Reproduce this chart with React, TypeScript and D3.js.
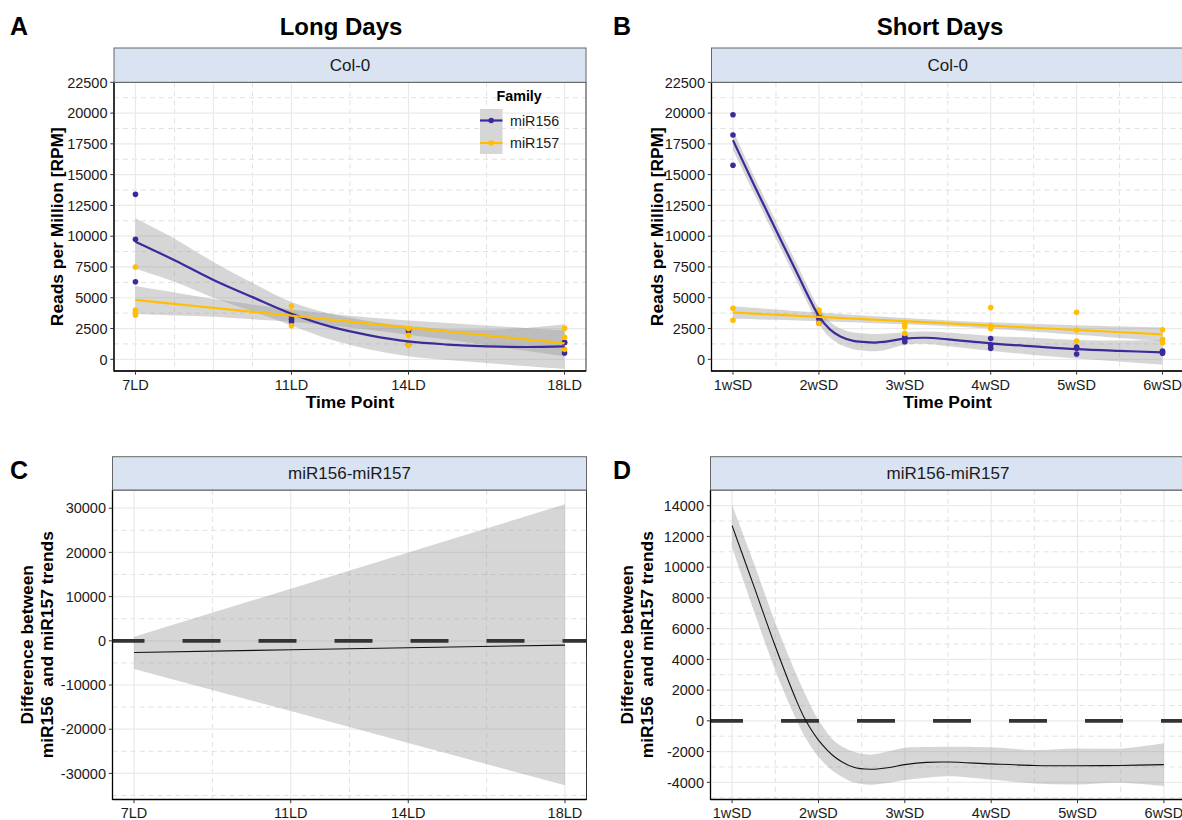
import React from 'react';
import * as d3 from 'd3';

const FONT = "'Liberation Sans', Arial, Helvetica, sans-serif";
const PURPLE = '#3B2A9A';
const YELLOW = '#FFBF00';

// ---------- axis ticks ----------
const LD_MAJOR = [7, 9, 11, 14, 18];
const LD_MINOR = [8, 10, 12.5, 16];
const LD_TICKS = [7, 11, 14, 18];
const LD_LABELS = ['7LD', '11LD', '14LD', '18LD'];
const LDC_MAJOR = [7, 11, 14, 18];
const LDC_MINOR = [9, 12.5, 16];
const SD_TICKS = [1, 2, 3, 4, 5, 6];
const SD_LABELS = ['1wSD', '2wSD', '3wSD', '4wSD', '5wSD', '6wSD'];
const SD_MINOR = [1.5, 2.5, 3.5, 4.5, 5.5];
const RPM_TICKS = [0, 2500, 5000, 7500, 10000, 12500, 15000, 17500, 20000, 22500];
const RPM_MINOR = [1250, 3750, 6250, 8750, 11250, 13750, 16250, 18750, 21250];
const DIFF_LD_TICKS = [-30000, -20000, -10000, 0, 10000, 20000, 30000];
const DIFF_LD_MINOR = [-35000, -25000, -15000, -5000, 5000, 15000, 25000];
const DIFF_SD_TICKS = [-4000, -2000, 0, 2000, 4000, 6000, 8000, 10000, 12000, 14000];
const DIFF_SD_MINOR = [-5000, -3000, -1000, 1000, 3000, 5000, 7000, 9000, 11000, 13000, 15000];

// ---------- Long days: points ----------
const LD_MIR156_X = [7, 7, 7, 11, 11, 11, 14, 14, 14, 18, 18, 18];
const LD_MIR156_Y = [13400, 9750, 6300, 3500, 3250, 3050, 2430, 2300, 1200, 1380, 1350, 510];
const LD_MIR157_X = [7, 7, 7, 7, 11, 11, 11, 14, 14, 14, 18, 18, 18];
const LD_MIR157_Y = [7500, 4000, 3790, 3600, 4330, 3740, 2730, 2500, 1950, 1160, 2520, 1790, 810];

// ---------- Long days: smooth fits ----------
const LD_FIT_X = [7, 8, 9, 10, 11, 12, 13, 14, 15, 16, 17, 18];
const LD_MIR156_FIT = [9550, 8050, 6450, 5050, 3700, 2650, 1950, 1450, 1200, 1050, 1000, 1050];
const LD_MIR156_LO = [7350, 6300, 5000, 3900, 2750, 1600, 800, 250, -50, -300, -550, -800];
const LD_MIR156_HI = [11450, 9800, 7900, 6200, 4650, 3700, 3100, 2700, 2450, 2400, 2550, 2850];
const LD_MIR157_FIT = [4820, 4500, 4180, 3860, 3540, 3220, 2900, 2580, 2260, 1940, 1620, 1300];
const LD_MIR157_LO = [3650, 3550, 3450, 3250, 3050, 2750, 2400, 2000, 1600, 1150, 700, 250];
const LD_MIR157_HI = [5950, 5420, 4900, 4450, 4050, 3700, 3400, 3150, 2950, 2750, 2550, 2350];

// ---------- Short days: points ----------
const SD_MIR156_X = [1, 1, 1, 2, 2, 2, 3, 3, 3, 4, 4, 4, 5, 5, 5, 6, 6, 6];
const SD_MIR156_Y = [19870, 18220, 15760, 3500, 3300, 2950, 1800, 1700, 1430, 1680, 1160, 890, 1000, 900, 430, 675, 590, 490];
const SD_MIR157_X = [1, 1, 2, 2, 2, 3, 3, 3, 4, 4, 4, 5, 5, 5, 6, 6, 6];
const SD_MIR157_Y = [4140, 3170, 4000, 3790, 2920, 2840, 2650, 2110, 4200, 2730, 2500, 3820, 2380, 1490, 2400, 1620, 1350];

// ---------- Short days: smooth fits ----------
const SD_M156_X = [1, 1.25, 1.5, 1.75, 1.875, 2, 2.125, 2.25, 2.4, 2.5, 2.65, 2.8, 3, 3.25, 3.5, 4, 4.5, 5, 5.5, 6];
const SD_MIR156_FIT = [17800, 14100, 10500, 6950, 5150, 3500, 2450, 1850, 1500, 1420, 1360, 1450, 1680, 1750, 1620, 1300, 1050, 820, 680, 570];
const SD_MIR156_LO = [17000, 13400, 9800, 6250, 4480, 2850, 1800, 1200, 820, 720, 660, 800, 1180, 1250, 1070, 700, 350, 70, -170, -430];
const SD_MIR156_HI = [18600, 14800, 11200, 7650, 5820, 4150, 3100, 2500, 2180, 2120, 2060, 2100, 2180, 2250, 2170, 1900, 1750, 1570, 1530, 1570];
const SD_M157_X = [1, 2, 3, 3.5, 4, 5, 6];
const SD_MIR157_FIT = [3800, 3450, 3100, 2920, 2740, 2380, 2030];
const SD_MIR157_LO = [3300, 3100, 2850, 2680, 2480, 2000, 1480];
const SD_MIR157_HI = [4300, 3800, 3350, 3160, 3000, 2760, 2580];

// ---------- Differences ----------
const DLD_X = [7, 11, 14, 18];
const DLD_FIT = [-2630, -2030, -1570, -970];
const DLD_LO = [-6400, -15900, -23100, -32700];
const DLD_HI = [900, 11800, 20000, 30900];

const DSD_X = [1, 1.25, 1.5, 1.75, 1.85, 2, 2.2, 2.4, 2.6, 2.8, 3, 3.25, 3.5, 4, 4.5, 5, 5.5, 6];
const DSD_FIT = [12700, 8800, 4850, 1250, 50, -1250, -2400, -3000, -3150, -3050, -2850, -2700, -2680, -2800, -2900, -2920, -2900, -2850];
const DSD_LO = [11300, 7200, 3300, 0, -1100, -2350, -3400, -4000, -4150, -4050, -3850, -3700, -3600, -3820, -4080, -4140, -4030, -4250];
const DSD_HI = [14050, 10300, 6400, 2950, 1700, 50, -1400, -2000, -2200, -2000, -1750, -1700, -1680, -1720, -1900, -1800, -1800, -1450];

type Sc = d3.ScaleLinear<number, number>;

interface PanelProps {
  id: string;
  left: number; right: number; top: number; bottom: number; stripTop: number;
  xDomain: [number, number]; yDomain: [number, number];
  xMajor: number[]; xMinor: number[]; xTicks: number[]; xLabels: string[];
  yTicks: number[]; yMinor: number[];
  strip: string;
  tickLabelGap: number;
  render: (x: Sc, y: Sc) => React.ReactNode;
}

function Panel(p: PanelProps) {
  const x = d3.scaleLinear().domain(p.xDomain).range([p.left, p.right]);
  const y = d3.scaleLinear().domain(p.yDomain).range([p.bottom, p.top]);
  const inY = (v: number) => y(v) >= p.top - 0.5 && y(v) <= p.bottom + 0.5;
  const inX = (v: number) => x(v) >= p.left && x(v) <= p.right;
  return (
    <g>
      <defs>
        <clipPath id={`clip-${p.id}`}>
          <rect x={p.left} y={p.top} width={p.right - p.left} height={p.bottom - p.top} />
        </clipPath>
      </defs>
      <rect x={p.left} y={p.top} width={p.right - p.left} height={p.bottom - p.top} fill="#fff" />
      {p.yMinor.filter(inY).map((v) => (
        <line key={`ym${v}`} x1={p.left} x2={p.right} y1={y(v)} y2={y(v)} stroke="#D9D9D9" strokeWidth={0.8} strokeDasharray="5 4" />
      ))}
      {p.xMinor.filter(inX).map((v) => (
        <line key={`xm${v}`} x1={x(v)} x2={x(v)} y1={p.top} y2={p.bottom} stroke="#D9D9D9" strokeWidth={0.8} strokeDasharray="5 4" />
      ))}
      {p.yTicks.map((v) => (
        <line key={`yM${v}`} x1={p.left} x2={p.right} y1={y(v)} y2={y(v)} stroke="#EAEAEA" strokeWidth={1.2} />
      ))}
      {p.xMajor.map((v) => (
        <line key={`xM${v}`} x1={x(v)} x2={x(v)} y1={p.top} y2={p.bottom} stroke="#EAEAEA" strokeWidth={1.2} />
      ))}
      <g clipPath={`url(#clip-${p.id})`}>{p.render(x, y)}</g>
      <rect x={p.left} y={p.top} width={p.right - p.left} height={p.bottom - p.top} fill="none" stroke="#333" strokeWidth={1} />
      <line x1={p.left} x2={p.left} y1={p.top} y2={p.bottom + 0.5} stroke="#000" strokeWidth={1.3} />
      <line x1={p.left} x2={p.right} y1={p.bottom} y2={p.bottom} stroke="#000" strokeWidth={1.3} />
      {p.yTicks.map((v) => (
        <g key={`yt${v}`}>
          <line x1={p.left - 3.7} x2={p.left} y1={y(v)} y2={y(v)} stroke="#333" strokeWidth={1} />
          <text x={p.left - 6.5} y={y(v)} dy="0.36em" textAnchor="end" fontSize={14.5} fill="#1a1a1a" fontFamily={FONT}>{v}</text>
        </g>
      ))}
      {p.xTicks.map((v, i) => (
        <g key={`xt${v}`}>
          <line x1={x(v)} x2={x(v)} y1={p.bottom} y2={p.bottom + 3.7} stroke="#333" strokeWidth={1} />
          <text x={x(v)} y={p.bottom + p.tickLabelGap} textAnchor="middle" fontSize={14.5} fill="#1a1a1a" fontFamily={FONT}>{p.xLabels[i]}</text>
        </g>
      ))}
      <rect x={p.left} y={p.stripTop} width={p.right - p.left} height={p.top - p.stripTop} fill="#DAE3F2" stroke="#666" strokeWidth={1} />
      <text x={(p.left + p.right) / 2} y={(p.stripTop + p.top) / 2} dy="0.36em" textAnchor="middle" fontSize={17} fill="#1a1a1a" fontFamily={FONT}>{p.strip}</text>
    </g>
  );
}

function zip(xs: number[], a: number[], b?: number[], c?: number[]) {
  return xs.map((v, i) => ({ x: v, f: a[i], lo: b ? b[i] : 0, hi: c ? c[i] : 0 }));
}

function Ribbon({ x, y, xs, lo, hi, curve }: { x: Sc; y: Sc; xs: number[]; lo: number[]; hi: number[]; curve: d3.CurveFactory }) {
  const d = zip(xs, lo, lo, hi);
  const area = d3.area<any>().x((e) => x(e.x)).y0((e) => y(e.lo)).y1((e) => y(e.hi)).curve(curve);
  return <path d={area(d) || ''} fill="#999999" fillOpacity={0.4} stroke="none" />;
}

function FitLine({ x, y, xs, fit, color, width, curve }: { x: Sc; y: Sc; xs: number[]; fit: number[]; color: string; width: number; curve: d3.CurveFactory }) {
  const d = zip(xs, fit);
  const line = d3.line<any>().x((e) => x(e.x)).y((e) => y(e.f)).curve(curve);
  return <path d={line(d) || ''} fill="none" stroke={color} strokeWidth={width} strokeLinejoin="round" />;
}

function Points({ x, y, xs, ys, color }: { x: Sc; y: Sc; xs: number[]; ys: number[]; color: string }) {
  return (
    <g>
      {xs.map((v, i) => (
        <circle key={i} cx={x(v)} cy={y(ys[i])} r={2.8} fill={color} />
      ))}
    </g>
  );
}

function HLine0({ y, left, right, offset }: { y: Sc; left: number; right: number; offset: number }) {
  return <line x1={left} x2={right + 4} y1={y(0)} y2={y(0)} stroke="#333" strokeWidth={3.8} strokeDasharray="38 38" strokeDashoffset={offset} />;
}

export default function App() {
  const smooth = d3.curveCatmullRom.alpha(0.5);
  const A = { left: 114, right: 586, top: 82.3, bottom: 371, stripTop: 48 };
  const B = { left: 711.5, right: 1184, top: 82.3, bottom: 371, stripTop: 48 };
  const C = { left: 112.5, right: 586.5, top: 490, bottom: 799.5, stripTop: 456.7 };
  const D = { left: 710.5, right: 1185.5, top: 490, bottom: 799.5, stripTop: 456.7 };
  return (
    <div style={{ position: 'absolute', left: 0, top: 0 }}>
      <svg width={1182} height={820} viewBox="0 0 1182 820" style={{ display: 'block', background: '#fff' }} fontFamily={FONT}>
        <rect x={0} y={0} width={1182} height={820} fill="#fff" />
        {/* Panel letters & titles */}
        <text x={10} y={35} fontSize={25} fontWeight="bold" fill="#000">A</text>
        <text x={613} y={35} fontSize={25} fontWeight="bold" fill="#000">B</text>
        <text x={10} y={479} fontSize={25} fontWeight="bold" fill="#000">C</text>
        <text x={613} y={479} fontSize={25} fontWeight="bold" fill="#000">D</text>
        <text x={341} y={35} fontSize={24} fontWeight="bold" textAnchor="middle" fill="#000">Long Days</text>
        <text x={940} y={35} fontSize={24} fontWeight="bold" textAnchor="middle" fill="#000">Short Days</text>

        {/* Panel A */}
        <Panel id="A" {...A} xDomain={[6.45, 18.55]} yDomain={[-950, 22500]}
          xMajor={LD_MAJOR} xMinor={LD_MINOR} xTicks={LD_TICKS} xLabels={LD_LABELS}
          yTicks={RPM_TICKS} yMinor={RPM_MINOR} strip="Col-0" tickLabelGap={19}
          render={(x, y) => (
            <g>
              <Ribbon x={x} y={y} xs={LD_FIT_X} lo={LD_MIR156_LO} hi={LD_MIR156_HI} curve={smooth} />
              <Ribbon x={x} y={y} xs={LD_FIT_X} lo={LD_MIR157_LO} hi={LD_MIR157_HI} curve={smooth} />
              <Points x={x} y={y} xs={LD_MIR156_X} ys={LD_MIR156_Y} color={PURPLE} />
              <Points x={x} y={y} xs={LD_MIR157_X} ys={LD_MIR157_Y} color={YELLOW} />
              <FitLine x={x} y={y} xs={LD_FIT_X} fit={LD_MIR156_FIT} color={PURPLE} width={2.2} curve={smooth} />
              <FitLine x={x} y={y} xs={LD_FIT_X} fit={LD_MIR157_FIT} color={YELLOW} width={2.2} curve={smooth} />
            </g>
          )} />
        <text transform={`translate(63,${(A.top + A.bottom) / 2}) rotate(-90)`} textAnchor="middle" fontSize={17.4} fontWeight="bold" fill="#000">Reads per Million [RPM]</text>
        <text x={(A.left + A.right) / 2} y={408} textAnchor="middle" fontSize={17.4} fontWeight="bold" fill="#000">Time Point</text>

        {/* Legend */}
        <text x={496.5} y={101} fontSize={14.3} fontWeight="bold" fill="#000">Family</text>
        <rect x={480} y={109} width={22.5} height={45} fill="#D6D6D6" />
        <line x1={480} x2={502.5} y1={120.5} y2={120.5} stroke={PURPLE} strokeWidth={2.2} />
        <circle cx={491.2} cy={120.5} r={2.8} fill={PURPLE} />
        <line x1={480} x2={502.5} y1={143} y2={143} stroke={YELLOW} strokeWidth={2.2} />
        <circle cx={491.2} cy={143} r={2.8} fill={YELLOW} />
        <text x={510} y={120.5} dy="0.36em" fontSize={14.3} fill="#1a1a1a">miR156</text>
        <text x={510} y={143} dy="0.36em" fontSize={14.3} fill="#1a1a1a">miR157</text>

        {/* Panel B */}
        <Panel id="B" {...B} xDomain={[0.75, 6.25]} yDomain={[-950, 22500]}
          xMajor={SD_TICKS} xMinor={SD_MINOR} xTicks={SD_TICKS} xLabels={SD_LABELS}
          yTicks={RPM_TICKS} yMinor={RPM_MINOR} strip="Col-0" tickLabelGap={19}
          render={(x, y) => (
            <g>
              <Ribbon x={x} y={y} xs={SD_M156_X} lo={SD_MIR156_LO} hi={SD_MIR156_HI} curve={smooth} />
              <Ribbon x={x} y={y} xs={SD_M157_X} lo={SD_MIR157_LO} hi={SD_MIR157_HI} curve={smooth} />
              <Points x={x} y={y} xs={SD_MIR156_X} ys={SD_MIR156_Y} color={PURPLE} />
              <Points x={x} y={y} xs={SD_MIR157_X} ys={SD_MIR157_Y} color={YELLOW} />
              <FitLine x={x} y={y} xs={SD_M156_X} fit={SD_MIR156_FIT} color={PURPLE} width={2.2} curve={smooth} />
              <FitLine x={x} y={y} xs={SD_M157_X} fit={SD_MIR157_FIT} color={YELLOW} width={2.2} curve={smooth} />
            </g>
          )} />
        <text transform={`translate(663,${(B.top + B.bottom) / 2}) rotate(-90)`} textAnchor="middle" fontSize={17.4} fontWeight="bold" fill="#000">Reads per Million [RPM]</text>
        <text x={947.5} y={408} textAnchor="middle" fontSize={17.4} fontWeight="bold" fill="#000">Time Point</text>

        {/* Panel C */}
        <Panel id="C" {...C} xDomain={[6.45, 18.55]} yDomain={[-35900, 34120]}
          xMajor={LDC_MAJOR} xMinor={LDC_MINOR} xTicks={LD_TICKS} xLabels={LD_LABELS}
          yTicks={DIFF_LD_TICKS} yMinor={DIFF_LD_MINOR} strip="miR156-miR157" tickLabelGap={18}
          render={(x, y) => (
            <g>
              <Ribbon x={x} y={y} xs={DLD_X} lo={DLD_LO} hi={DLD_HI} curve={d3.curveLinear} />
              <HLine0 y={y} left={C.left} right={C.right} offset={6} />
              <FitLine x={x} y={y} xs={DLD_X} fit={DLD_FIT} color="#111" width={1.1} curve={d3.curveLinear} />
            </g>
          )} />
        <text transform={`translate(33,${(C.top + C.bottom) / 2}) rotate(-90)`} textAnchor="middle" fontSize={17.4} fontWeight="bold" fill="#000">Difference between</text>
        <text transform={`translate(53,${(C.top + C.bottom) / 2}) rotate(-90)`} textAnchor="middle" fontSize={17.4} fontWeight="bold" fill="#000" style={{ whiteSpace: 'pre' }}>{'miR156  and miR157 trends'}</text>

        {/* Panel D */}
        <Panel id="D" {...D} xDomain={[0.75, 6.25]} yDomain={[-5117, 15020]}
          xMajor={SD_TICKS} xMinor={SD_MINOR} xTicks={SD_TICKS} xLabels={SD_LABELS}
          yTicks={DIFF_SD_TICKS} yMinor={DIFF_SD_MINOR} strip="miR156-miR157" tickLabelGap={18}
          render={(x, y) => (
            <g>
              <Ribbon x={x} y={y} xs={DSD_X} lo={DSD_LO} hi={DSD_HI} curve={smooth} />
              <HLine0 y={y} left={D.left} right={D.right} offset={5.5} />
              <FitLine x={x} y={y} xs={DSD_X} fit={DSD_FIT} color="#111" width={1.1} curve={smooth} />
            </g>
          )} />
        <text transform={`translate(633,${(D.top + D.bottom) / 2}) rotate(-90)`} textAnchor="middle" fontSize={17.4} fontWeight="bold" fill="#000">Difference between</text>
        <text transform={`translate(653,${(D.top + D.bottom) / 2}) rotate(-90)`} textAnchor="middle" fontSize={17.4} fontWeight="bold" fill="#000" style={{ whiteSpace: 'pre' }}>{'miR156  and miR157 trends'}</text>
      </svg>
    </div>
  );
}
